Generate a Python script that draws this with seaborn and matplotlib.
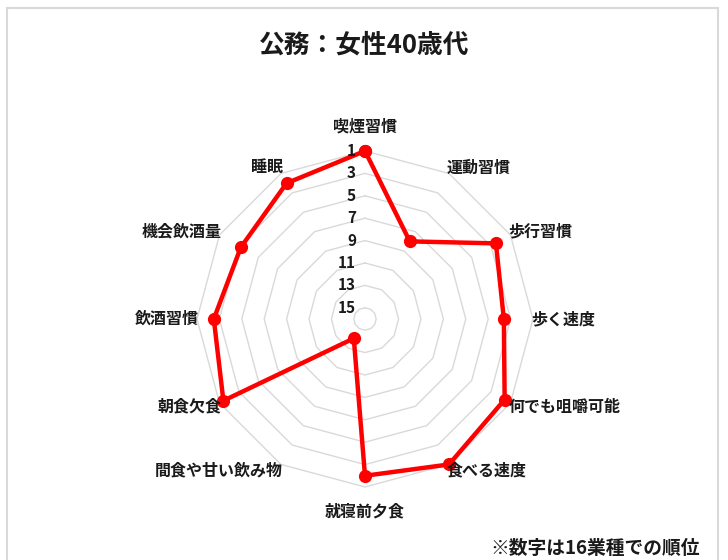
import numpy as np
import seaborn as sns
import matplotlib.pyplot as plt
from matplotlib.patches import Rectangle

# データ（16業種での順位）
categories = ['喫煙習慣', '運動習慣', '歩行習慣', '歩く速度', '何でも咀嚼可能', '食べる速度',
              '就寝前夕食', '間食や甘い飲み物', '朝食欠食', '飲酒習慣', '機会飲酒量', '睡眠']
ranks = [1, 8, 2.5, 3.6, 1.6, 1, 2, 14, 1.4, 2.5, 3.2, 2]
ring_values = [1, 3, 5, 7, 9, 11, 13, 15]
tick_labels = ['1', '3', '5', '7', '9', '11', '13', '15']

title = '公務：女性40歳代'
note = '※数字は16業種での順位'

sns.set_theme(style='white')
plt.rcParams['font.family'] = ['Noto Sans CJK JP', 'DejaVu Sans']

fig = plt.figure(figsize=(7.28, 5.60), dpi=100)

# 外枠
fig.patches.append(Rectangle((7 / 728, -0.1), (718 - 7) / 728, 1.1 - 8 / 560,
                             transform=fig.transFigure, fill=False,
                             edgecolor='#d9d9d9', lw=1.5))

ax = fig.add_axes([0.2706, 0.1304, 0.4615, 0.6], projection='polar')
ax.set_theta_zero_location('N')
ax.set_theta_direction(-1)

n = len(categories)
theta = np.linspace(0, 2 * np.pi, n, endpoint=False)
theta_closed = np.append(theta, theta[0])

# 多角形のグリッド
for v in ring_values:
    ax.plot(theta_closed, [v] * (n + 1), color='#d9d9d9', lw=1, zorder=1,
            clip_on=False)

vals_closed = ranks + [ranks[0]]
sns.lineplot(x=theta_closed, y=vals_closed, sort=False, estimator=None, ax=ax,
             color='#ff0000', lw=3.2, marker='o', markersize=9.5,
             markeredgewidth=0, zorder=3, clip_on=False)

ax.set_ylim(16, 1)
ax.grid(False)
ax.spines['polar'].set_visible(False)
ax.set_xticks([])
ax.set_yticks([])
ax.set_xlabel('')
ax.set_ylabel('')

# 目盛りラベル
for v, lab in zip(ring_values, tick_labels):
    ax.annotate(lab, xy=(0, v), xytext=(-9, 0), textcoords='offset pixels',
                ha='right', va='center', fontsize=11, fontweight='bold',
                color='#1a1a1a', annotation_clip=False)

# 項目ラベル
for t, cat in zip(theta, categories):
    s, c = np.sin(t), np.cos(t)
    if abs(s) < 1e-6:
        ha = 'center'
        off = (0, 24 * np.sign(c))
    else:
        ha = 'left' if s > 0 else 'right'
        off = (-2 * np.sign(s), 7 * c)
    ax.annotate(cat, xy=(t, 1), xytext=off, textcoords='offset pixels',
                ha=ha, va='center', fontsize=11.5, fontweight='bold',
                color='#1a1a1a', annotation_clip=False)

fig.text(0.5, 1 - 45 / 560, title, ha='center', va='center',
         fontsize=18.5, fontweight='bold', color='#1a1a1a')
fig.text(700 / 728, 1 - 548 / 560, note, ha='right', va='center',
         fontsize=13.5, fontweight='bold', color='#1a1a1a')

fig.savefig('out.png', dpi=100)
